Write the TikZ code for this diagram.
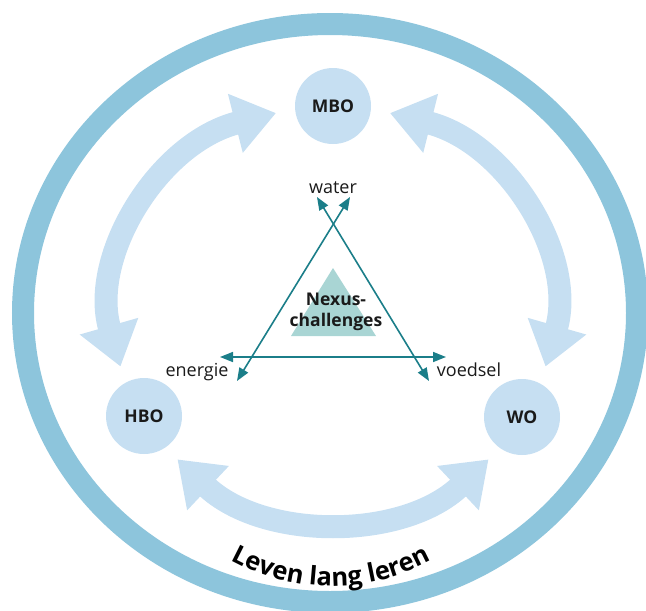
\documentclass[tikz,border=0pt]{standalone}
\usepackage{fontspec}
\setmainfont{Open Sans}
\usetikzlibrary{arrows.meta,decorations.text}
\definecolor{ringblue}{HTML}{8DC5DC}
\definecolor{lightblue}{HTML}{C6DFF2}
\definecolor{tealline}{HTML}{1B7E89}
\definecolor{trifill}{HTML}{A9D5D4}
\definecolor{txt}{HTML}{1A1A1A}
\begin{document}
\begin{tikzpicture}[x=1pt,y=-1pt,
  edu/.style={circle, fill=lightblue, minimum size=76pt, inner sep=0pt,
    font=\fontsize{17.5}{20}\selectfont\bfseries, text=txt},
  bigarrow/.style={draw=lightblue, line width=23pt,
    {Triangle[length=42pt,width=58pt]}-{Triangle[length=42pt,width=58pt]}},
  nexarrow/.style={draw=tealline, line width=1.6pt,
    {Triangle[length=13pt,width=10pt]}-{Triangle[length=13pt,width=10pt]}},
  lbl/.style={font=\fontsize{18}{20}\selectfont, text=txt, inner sep=0pt}
]
\useasboundingbox (0,0) rectangle (646,611);
\clip (0,0) rectangle (646,611);
% outer ring
\draw[ringblue, line width=22pt] (330,313) ellipse [x radius=307, y radius=289];
% big curved arrows
\draw[bigarrow] (333,313) ++(165:220 and 207) arc[start angle=165, end angle=255, x radius=220, y radius=207];
\draw[bigarrow] (333,313) ++(45:220 and 207) arc[start angle=45, end angle=135, x radius=220, y radius=207];
\draw[bigarrow] (333,313) ++(285:220 and 207) arc[start angle=285, end angle=375, x radius=220, y radius=207];
% education nodes
\node[edu] (mbo) at (333,106) {MBO};
\node[edu] (hbo) at (144,416) {HBO};
\node[edu] (wo) at (522,417) {WO};
% nexus triangle
\fill[trifill] (333,268) -- (376,336) -- (291,336) -- cycle;
\node[lbl, font=\fontsize{17.5}{21}\selectfont\bfseries, align=center] (nexus) at (336,312) {Nexus-\\challenges};
% labels
\node[lbl, anchor=base] (water) at (333,193) {water};
\node[lbl, anchor=base] (energie) at (197,376) {energie};
\node[lbl, anchor=base] (voedsel) at (469,376) {voedsel};
% nexus arrows
\coordinate (hl) at (220,357);
\coordinate (hr) at (446,357);
\coordinate (al) at (237,381);
\coordinate (ar) at (350,197);
\coordinate (bl) at (317,197);
\coordinate (br) at (429,381);
\draw[nexarrow] (hl) -- (hr);
\draw[nexarrow] (al) -- (ar);
\draw[nexarrow] (bl) -- (br);
% curved title
\path[decorate, decoration={text along path, text align=center,
  text={|\fontsize{25.5}{26}\selectfont\bfseries|Leven lang leren}}]
  (331,376) ++(125:210) arc[start angle=125, end angle=55, radius=210];
\end{tikzpicture}
\end{document}
